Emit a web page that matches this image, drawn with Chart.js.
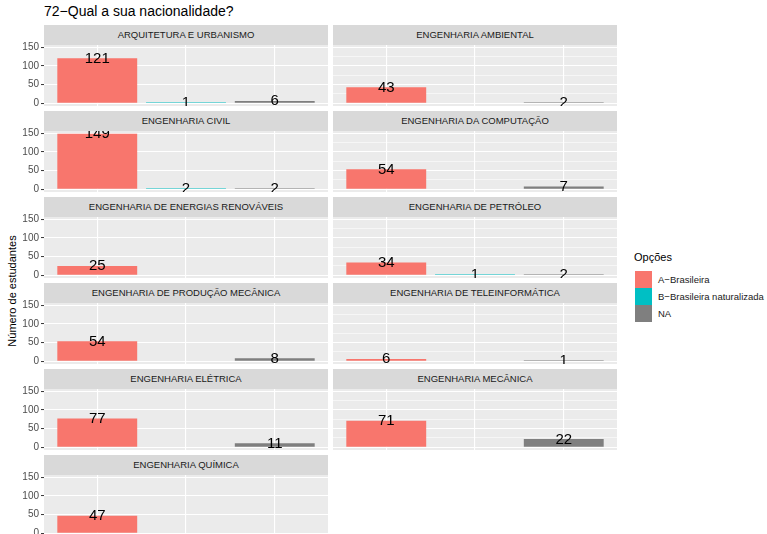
<!DOCTYPE html>
<html>
<head>
<meta charset="utf-8">
<script src="https://cdn.jsdelivr.net/npm/chart.js@4"></script>
<style>
  body { margin: 0; background: #fff; font-family: "Liberation Sans", Arial, sans-serif; }
  #wrap { position: relative; width: 767px; height: 534px; overflow: hidden; }
  .abs { position: absolute; }
  .strip { background: #D9D9D9; color: #1A1A1A; font-size: 9.5px; text-align: center; line-height: 20px; height: 20px; white-space: nowrap; }
  .key { width: 17px; height: 17px; }
  .keylab { font-size: 9.5px; color: #1A1A1A; }
</style>
</head>
<body>
<div id="wrap">
  <div class="abs" style="left:44px;top:3px;font-size:14px;color:#000;">72−Qual a sua nacionalidade?</div>
  <div class="abs" style="left:12px;top:291px;font-size:11px;color:#000;transform:translate(-50%,-50%) rotate(-90deg);white-space:nowrap;">Número de estudantes</div>

  <div class="abs" style="left:634px;top:251px;font-size:11px;color:#000;">Opções</div>
  <div class="abs key" style="left:635px;top:271px;background:#F8766D;"></div>
  <div class="abs key" style="left:635px;top:288px;background:#00BFC4;"></div>
  <div class="abs key" style="left:635px;top:305px;background:#7F7F7F;"></div>
  <div class="abs keylab" style="left:658px;top:274px;">A−Brasileira</div>
  <div class="abs keylab" style="left:658px;top:291px;">B−Brasileira naturalizada</div>
  <div class="abs keylab" style="left:658px;top:308px;">NA</div>
</div>
<script>
// courses (facets), in reading order
var cursos = [
  "ARQUITETURA E URBANISMO", "ENGENHARIA AMBIENTAL",
  "ENGENHARIA CIVIL", "ENGENHARIA DA COMPUTAÇÃO",
  "ENGENHARIA DE ENERGIAS RENOVÁVEIS", "ENGENHARIA DE PETRÓLEO",
  "ENGENHARIA DE PRODUÇÃO MECÂNICA", "ENGENHARIA DE TELEINFORMÁTICA",
  "ENGENHARIA ELÉTRICA", "ENGENHARIA MECÂNICA",
  "ENGENHARIA QUÍMICA"
];
var opcoes = ["A−Brasileira", "B−Brasileira naturalizada", "NA"];
// counts per answer, null = nobody
var brasileira   = [121, 43, 149, 54, 25, 34, 54, 6, 77, 71, 47];
var naturalizada = [1, null, 2, null, null, 1, null, null, null, null, null];
var semResposta  = [6, 2, 2, 7, null, 2, 8, 1, 11, 22, null];
var yTicks = [0, 50, 100, 150];
var yMinor = [25, 75, 125];
var cores = ["#F8766D", "#00BFC4", "#7F7F7F"];

Chart.defaults.font.family = '"Liberation Sans", Arial, sans-serif';

var PAD = 8; // room above/below the panel for the tick labels

// grey panel background + number labels
var painel = {
  id: 'painel',
  beforeDraw: function(chart) {
    var a = chart.chartArea, c = chart.ctx;
    c.save();
    c.fillStyle = '#EBEBEB';
    c.fillRect(a.left, a.top, a.right - a.left, a.bottom - a.top);
    c.restore();
  },
  afterDatasetsDraw: function(chart) {
    var a = chart.chartArea, c = chart.ctx, ys = chart.scales.y;
    var meta = chart.getDatasetMeta(0);
    c.save();
    c.beginPath();
    c.rect(a.left, a.top, a.right - a.left, a.bottom - a.top);
    c.clip();
    c.fillStyle = '#000';
    c.font = '15px "Liberation Sans", Arial, sans-serif';
    c.textAlign = 'center';
    c.textBaseline = 'alphabetic';
    meta.data.forEach(function(bar, i) {
      var v = chart.data.datasets[0].data[i].y;
      if (v === null) return;
      c.fillText(String(v), bar.x, ys.getPixelForValue(v) + 4.5);
    });
    c.restore();
  }
};

var wrap = document.getElementById('wrap');

cursos.forEach(function(nome, i) {
  var col = i % 2, row = Math.floor(i / 2);
  var left = col === 0 ? 44 : 333;
  var top = 25 + row * 86;

  var s = document.createElement('div');
  s.className = 'abs strip';
  s.style.left = left + 'px';
  s.style.top = top + 'px';
  s.style.width = '284px';
  s.textContent = nome;
  wrap.appendChild(s);

  var cv = document.createElement('canvas');
  var axisW = col === 0 ? 30 : 0;
  cv.width = 284 + axisW;
  cv.height = 61 + 2 * PAD;
  cv.className = 'abs';
  cv.style.left = (left - axisW) + 'px';
  cv.style.top = (top + 20 - PAD) + 'px';
  wrap.appendChild(cv);

  var valores = [brasileira[i], naturalizada[i], semResposta[i]];

  new Chart(cv, {
    type: 'bar',
    data: {
      datasets: [{
        data: valores.map(function(v, k) { return { x: k + 1, y: v }; }),
        backgroundColor: cores,
        categoryPercentage: 1,
        barPercentage: 0.9,
        minBarLength: 1
      }]
    },
    options: {
      responsive: false,
      animation: false,
      layout: { padding: { top: PAD, bottom: PAD, left: 0, right: 0 } },
      plugins: { legend: { display: false }, tooltip: { enabled: false } },
      scales: {
        x: {
          type: 'linear', min: 0.4, max: 3.6, offset: false,
          afterBuildTicks: function(sc) { sc.ticks = [1, 2, 3].map(function(v) { return { value: v }; }); },
          ticks: { display: false },
          grid: { color: '#FFFFFF', lineWidth: 1.1, drawTicks: false, offset: false },
          border: { display: false },
          afterFit: function(sc) { sc.height = 0; sc.paddingLeft = 0; sc.paddingRight = 0; }
        },
        y: {
          min: -7.45, max: 156.45,
          afterBuildTicks: function(sc) {
            sc.ticks = yTicks.concat(yMinor).sort(function(a, b) { return a - b; })
              .map(function(v) { return { value: v }; });
          },
          ticks: {
            display: col === 0,
            color: '#4D4D4D',
            font: { size: 10 },
            padding: 2,
            callback: function(v) { return yTicks.indexOf(v) >= 0 ? String(v) : ''; }
          },
          grid: {
            color: '#FFFFFF',
            lineWidth: function(ctx) { return yTicks.indexOf(ctx.tick.value) >= 0 ? 1.1 : 0.55; },
            drawTicks: col === 0,
            tickLength: 3,
            tickColor: function(ctx) { return yTicks.indexOf(ctx.tick.value) >= 0 ? '#333333' : 'rgba(0,0,0,0)'; },
            tickWidth: 1
          },
          border: { display: false },
          afterFit: function(sc) { sc.width = axisW; sc.paddingTop = 0; sc.paddingBottom = 0; }
        }
      }
    },
    plugins: [painel]
  });
});
</script>
</body>
</html>
